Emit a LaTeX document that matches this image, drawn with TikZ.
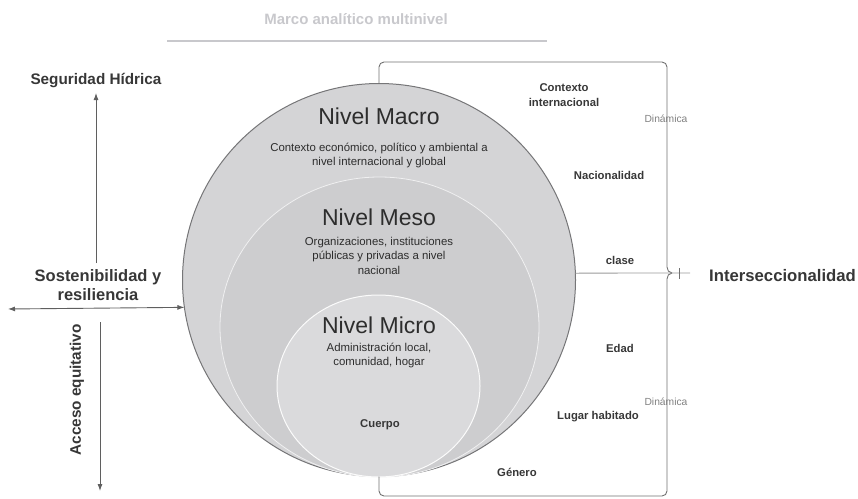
\documentclass[tikz,border=0pt]{standalone}
\usepackage{fontspec}
\setmainfont{Liberation Sans}
\usetikzlibrary{shapes.geometric,arrows.meta}
\definecolor{macrofill}{RGB}{212,212,214}
\definecolor{mesofill}{RGB}{205,205,207}
\definecolor{microfill}{RGB}{218,218,220}
\definecolor{ringline}{RGB}{118,118,120}
\definecolor{inkdark}{RGB}{45,45,45}
\definecolor{inklabel}{RGB}{55,55,55}
\definecolor{paleink}{RGB}{200,200,204}
\definecolor{braceline}{RGB}{112,112,112}
\definecolor{arrowline}{RGB}{95,95,95}
\tikzset{
  levelhead/.style={font=\fontsize{23}{26}\selectfont, text=inkdark, anchor=base, inner sep=0pt},
  leveltext/.style={font=\fontsize{11.4}{14.5}\selectfont, text=inkdark, anchor=base, align=center, inner sep=0pt},
  factor/.style={font=\fontsize{11.3}{15}\selectfont\bfseries, text=inklabel, anchor=base, align=center, inner sep=0pt},
  dynlabel/.style={font=\fontsize{10.3}{12}\selectfont, text=gray, anchor=base, inner sep=0pt},
  axislabel/.style={font=\fontsize{15.3}{19}\selectfont\bfseries, text=inklabel, anchor=base, align=center, inner sep=0pt},
  axisarrow/.style={draw=arrowline, line width=0.9pt, -{Latex[length=7pt,width=5pt]}},
  bracket/.style={draw=braceline, line width=0.9pt, rounded corners=5pt},
}
\begin{document}
\begin{tikzpicture}[x=1pt,y=-1pt]
\useasboundingbox (0,0) rectangle (858,498);

% heading
\node[font=\fontsize{15}{18}\selectfont\bfseries, text=paleink, anchor=base, inner sep=0pt] (title) at (356,24) {Marco analítico multinivel};
\draw[draw=paleink, line width=1.4pt] (167,41) coordinate (rulel) -- (547,41) coordinate (ruler);

% nested levels
\node[circle, minimum size=393pt, inner sep=0pt, outer sep=0pt, fill=macrofill, draw=ringline, line width=1pt] (macro) at (379,280) {};
\node[ellipse, minimum width=319pt, minimum height=300pt, inner sep=0pt, fill=mesofill, draw=white!70!mesofill, line width=0.8pt] (meso) at (379.5,327) {};
\node[ellipse, minimum width=203pt, minimum height=182pt, inner sep=0pt, fill=microfill, draw=white!90!microfill, line width=1pt] (micro) at (378.5,386) {};

% multi-line nodes are placed by the baseline of their last line
\node[levelhead] (macrohead) at (379,124) {Nivel Macro};
\node[leveltext] (macrotext) at (379,165.5) {Contexto económico, político y ambiental a\\nivel internacional y global};
\node[levelhead] (mesohead) at (379,225) {Nivel Meso};
\node[leveltext] (mesotext) at (379,274) {Organizaciones, instituciones\\públicas y privadas a nivel\\nacional};
\node[levelhead] (microhead) at (379,333) {Nivel Micro};
\node[leveltext] (microtext) at (379,365.5) {Administración local,\\comunidad, hogar};
\node[factor] (cuerpo) at (380,427) {Cuerpo};

% intersectional factors
\node[factor] (contexto) at (564,106) {Contexto\\internacional};
\node[factor] (nacion) at (609,179) {Nacionalidad};
\node[factor] (clase) at (620,264) {clase};
\node[factor] (edad) at (620,352) {Edad};
\node[factor] (lugar) at (598,419) {Lugar habitado};
\node[factor] (genero) at (517,476) {Género};
\node[dynlabel] (dyntop) at (666,122) {Dinámica};
\node[dynlabel] (dynbot) at (666,405) {Dinámica};

% brace enclosing the factors
\coordinate (tip) at (672,273);
\draw[bracket] (macro.north) -- (379,62) -- (667,62) -- (667,262)
  .. controls (667,270) and (669,273) .. (tip);
\draw[bracket] (macro.south) -- (379,496) -- (667,496) -- (667,284)
  .. controls (667,276) and (669,273) .. (tip);

% link to the intersectionality label
\node[axislabel, font=\fontsize{16.7}{20}\selectfont\bfseries, anchor=base west] (inter) at (709,281) {Interseccionalidad};
\coordinate (linkend) at (690,273);
\draw[draw=gray!80, line width=0.8pt] (macro.2) -- (linkend);
\draw[draw=braceline, line width=0.8pt] (679,268) coordinate (ticktop) -- (679,279) coordinate (tickbot);

% axes on the left
\node[axislabel] (seguridad) at (96,84) {Seguridad Hídrica};
\node[axislabel, font=\fontsize{16.5}{19.5}\selectfont\bfseries] (sostenib) at (98,300.5) {Sostenibilidad y\\resiliencia};
\node[axislabel, rotate=90, anchor=center] (acceso) at (77,390) {Acceso equitativo};

\coordinate (upfoot) at (96,263);
\coordinate (uphead) at (96,93);
\draw[axisarrow] (upfoot) -- (uphead);
\coordinate (leftend) at (8,309);
\draw[axisarrow, {Latex[length=7pt,width=5pt]}-{Latex[length=7pt,width=5pt]}] (leftend) -- (macro.188.5);
\coordinate (downtop) at (100,322);
\coordinate (downend) at (100,491);
\draw[axisarrow] (downtop) -- (downend);
\end{tikzpicture}
\end{document}
